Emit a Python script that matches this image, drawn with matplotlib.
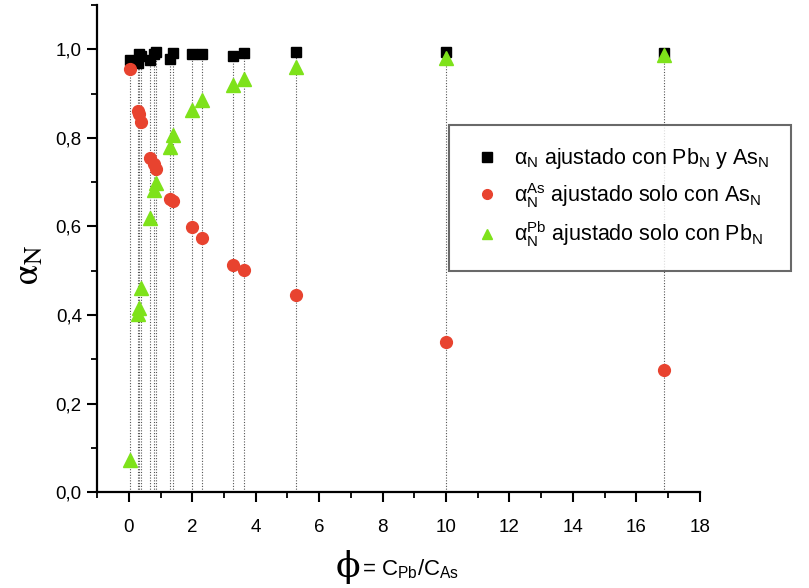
import matplotlib
matplotlib.use("Agg")
import matplotlib.pyplot as plt
from matplotlib.ticker import MultipleLocator, FuncFormatter
from matplotlib import font_manager

# ---- data ----
phi = [0.05, 0.30, 0.32, 0.37, 0.68, 0.81, 0.87, 1.29, 1.40, 1.98, 2.31,
       3.28, 3.62, 5.26, 10.0, 16.86]
alpha_both = [0.975, 0.968, 0.990, 0.985, 0.975, 0.990, 0.994, 0.977, 0.992,
              0.989, 0.990, 0.985, 0.992, 0.994, 0.993, 0.991]
alpha_as = [0.956, 0.860, 0.855, 0.836, 0.755, 0.742, 0.729, 0.661, 0.658,
            0.599, 0.575, 0.512, 0.501, 0.446, 0.339, 0.275]
alpha_pb = [0.072, 0.403, 0.416, 0.460, 0.619, 0.682, 0.697, 0.779, 0.806,
            0.864, 0.886, 0.919, 0.934, 0.960, 0.981, 0.986]

labels = [r'$\mathrm{\alpha}_{N}$ ajustado con Pb$_{N}$ y As$_{N}$',
          r'$\mathrm{\alpha}_{N}^{As}$ ajustado solo con As$_{N}$',
          r'$\mathrm{\alpha}_{N}^{Pb}$ ajustado solo con Pb$_{N}$']

names = {f.name for f in font_manager.fontManager.ttflist}
narrow = 'Liberation Sans Narrow' if 'Liberation Sans Narrow' in names else 'Liberation Sans'

plt.rcParams['font.family'] = ['Liberation Sans', 'DejaVu Sans']
plt.rcParams['mathtext.fontset'] = 'custom'
plt.rcParams['mathtext.rm'] = 'Liberation Sans'
plt.rcParams['mathtext.it'] = 'Liberation Sans'

fig = plt.figure(figsize=(8.09, 5.88), dpi=100)
ax = fig.add_axes([0.12, 0.163, 0.745, 0.8285])

ax.vlines(phi, 0, [max(a, b, c) for a, b, c in zip(alpha_both, alpha_as, alpha_pb)],
          colors='#555555', linestyles=(0, (1, 1.5)), linewidth=0.8, zorder=1)

ax.plot(phi, alpha_both, 's', color='black', markersize=7.5, label=labels[0], zorder=3)
ax.plot(phi, alpha_as, 'o', color='#e8432f', markersize=8.5, label=labels[1], zorder=3)
ax.plot(phi, alpha_pb, '^', color='#7ee21a', markersize=9.5, label=labels[2], zorder=3)

ax.set_xlim(-1, 18)
ax.set_ylim(0, 1.1)
ax.xaxis.set_major_locator(MultipleLocator(2))
ax.xaxis.set_minor_locator(MultipleLocator(1))
ax.yaxis.set_major_locator(MultipleLocator(0.2))
ax.yaxis.set_minor_locator(MultipleLocator(0.1))
ax.yaxis.set_major_formatter(FuncFormatter(lambda v, p: f"{v:.1f}".replace('.', ',')))
ax.xaxis.set_major_formatter(FuncFormatter(lambda v, p: f"{v:.0f}" if v >= 0 else ""))

for s in ['top', 'right']:
    ax.spines[s].set_visible(False)
for s in ['left', 'bottom']:
    ax.spines[s].set_linewidth(1.6)
ax.tick_params(which='major', direction='out', length=7, width=1.5, labelsize=13.5)
ax.tick_params(which='minor', direction='out', length=4, width=1.3)
for lab in ax.get_xticklabels() + ax.get_yticklabels():
    lab.set_family(narrow)
ax.tick_params(axis='x', pad=12)
ax.tick_params(axis='y', pad=4)

leg = fig.legend(loc='upper left', bbox_to_anchor=(0.542, 0.806), fontsize=15.5,
                 frameon=True, fancybox=False, handletextpad=0.5,
                 borderpad=1.0, labelspacing=0.45, handlelength=1.5)
leg.get_frame().set_edgecolor('#444444')
leg.get_frame().set_linewidth(1.5)
for h in leg.legend_handles:
    h.set_markersize(7)

fig.text(0.035, 0.55, r'$\mathrm{\alpha}_{\mathrm{N}}$', fontsize=26, math_fontfamily='stix',
         rotation=90, ha='center', va='center')
fig.text(0.43, 0.035, '\u03d5', fontsize=26, family='DejaVu Serif',
         ha='center', va='center')
fig.text(0.447, 0.032, r'= C$_{Pb}$/C$_{As}$', fontsize=16, family=narrow,
         ha='left', va='center')

fig.savefig('out.png', dpi=100)
